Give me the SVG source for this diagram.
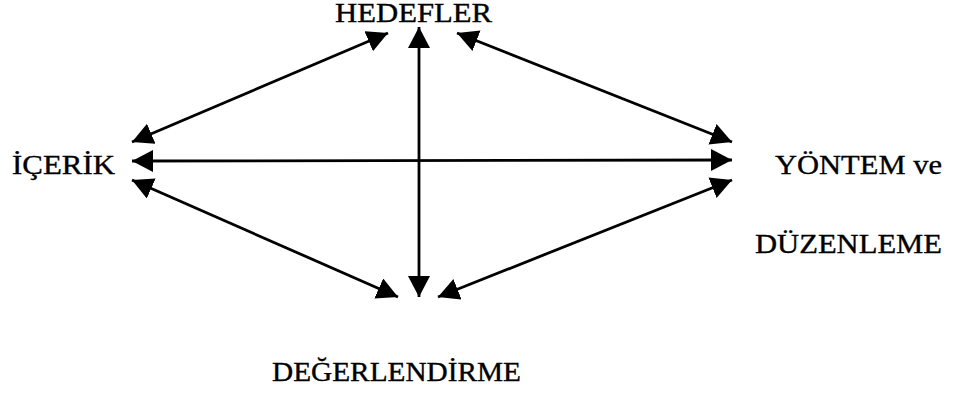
<svg xmlns="http://www.w3.org/2000/svg" width="953" height="395" viewBox="0 0 953 395">
  <style>
    .lbl { font-family: "Liberation Serif", "Times New Roman", serif; font-size: 27px; fill: #000; stroke: #000; stroke-width: 0.35; }
    .conn { stroke: #000; stroke-width: 2.8; fill: none; marker-start: url(#ah); marker-end: url(#ah); }
  </style>
  <defs>
    <marker id="ah" markerUnits="userSpaceOnUse" markerWidth="24" markerHeight="24" viewBox="0 0 24 24" refX="21" refY="11" orient="auto-start-reverse">
      <path d="M0,0 L21,11 L0,22 Z" fill="#000"/>
    </marker>
  </defs>
  <rect width="953" height="395" fill="#fff"/>
  <g id="hedefler"><text class="lbl" x="335" y="22" textLength="157" lengthAdjust="spacingAndGlyphs">HEDEFLER</text></g>
  <g id="icerik"><text class="lbl" x="12" y="174" textLength="103" lengthAdjust="spacingAndGlyphs">İÇERİK</text></g>
  <g id="yontem">
    <text class="lbl" x="775" y="174" textLength="167" lengthAdjust="spacingAndGlyphs">YÖNTEM ve</text>
    <text class="lbl" x="755" y="253" textLength="187" lengthAdjust="spacingAndGlyphs">DÜZENLEME</text>
  </g>
  <g id="degerlendirme"><text class="lbl" x="272" y="381" textLength="249" lengthAdjust="spacingAndGlyphs">DEĞERLENDİRME</text></g>
  <g id="connectors">
    <line class="conn" x1="419" y1="27" x2="419" y2="297"/>
    <line class="conn" x1="132" y1="161" x2="732" y2="160"/>
    <line class="conn" x1="132" y1="142" x2="388" y2="33"/>
    <line class="conn" x1="457" y1="33" x2="732" y2="142"/>
    <line class="conn" x1="132" y1="180" x2="398" y2="297"/>
    <line class="conn" x1="732" y1="180" x2="438" y2="297"/>
  </g>
</svg>
